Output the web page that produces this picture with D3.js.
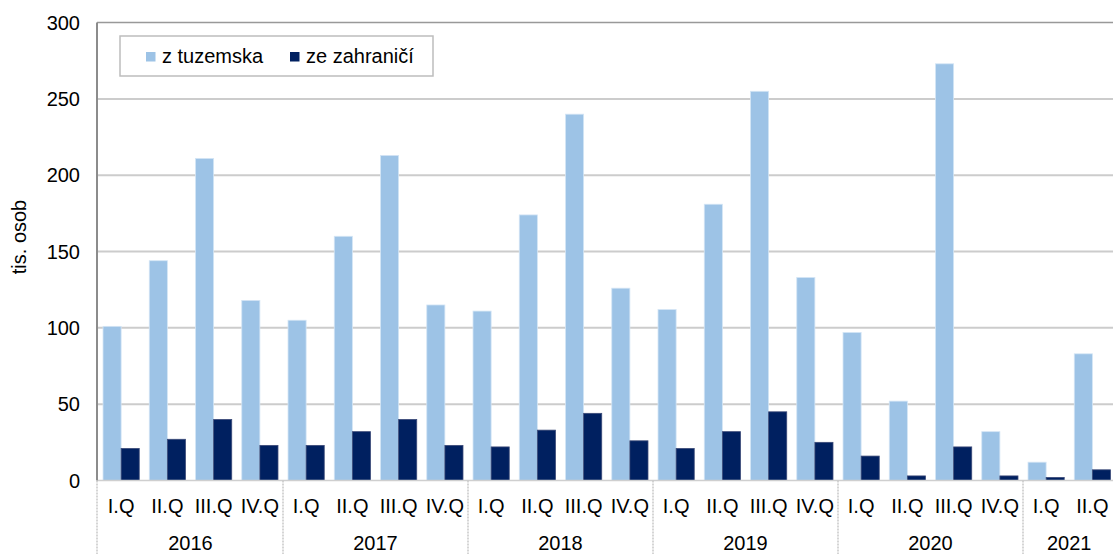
<!DOCTYPE html>
<html>
<head>
<meta charset="utf-8">
<script src="https://cdn.jsdelivr.net/npm/d3@7"></script>
<style>
  html, body { margin: 0; padding: 0; background: #fff; }
  svg { display: block; font-family: "Liberation Sans", Arial, sans-serif; }
</style>
</head>
<body>
<svg id="chart" width="1113" height="554"></svg>
<script>
// ---- data ----
const years = ["2016", "2017", "2018", "2019", "2020", "2021"];
const quartersPerYear = [4, 4, 4, 4, 4, 2];
const quarterLabels = ["I.Q", "II.Q", "III.Q", "IV.Q"];
const seriesNames = ["z tuzemska", "ze zahraničí"];
const domestic = [101, 144, 211, 118, 105, 160, 213, 115, 111, 174, 240, 126, 112, 181, 255, 133, 97, 52, 273, 32, 12, 83];
const foreign  = [21, 27, 40, 23, 23, 32, 40, 23, 22, 33, 44, 26, 21, 32, 45, 25, 16, 3, 22, 3, 2, 7];
const yTicks = [0, 50, 100, 150, 200, 250, 300];
const colors = ["#9dc3e6", "#002060"];

// build categories
const cats = [];
years.forEach((y, yi) => {
  for (let q = 0; q < quartersPerYear[yi]; q++) cats.push({ year: y, q: quarterLabels[q] });
});
const rows = cats.map((c, i) => ({ id: i, year: c.year, q: c.q, vals: [domestic[i], foreign[i]] }));

const svg = d3.select("#chart");
const step = 46.25;
const x0 = 98;
const x = d3.scaleBand().domain(rows.map(d => d.id)).range([x0, x0 + rows.length * step]).padding(0);
const x1 = d3.scaleBand().domain([0, 1]).range([0, x.bandwidth()]).paddingInner(0).paddingOuter(0.277);
const y = d3.scaleLinear().domain([0, 300]).range([480.5, 22.6]);

const font = 20;

// gridlines
svg.append("g").selectAll("line").data(yTicks.filter(t => t > 0 && t < 300)).join("line")
  .attr("x1", 97).attr("x2", 1113)
  .attr("y1", d => y(d)).attr("y2", d => y(d))
  .attr("stroke", "#cccccc").attr("stroke-width", 2);

// top border
svg.append("line").attr("x1", 97).attr("x2", 1113).attr("y1", y(300)).attr("y2", y(300))
  .attr("stroke", "#999").attr("stroke-width", 1.5);

// bars
const g = svg.append("g");
rows.forEach(r => {
  r.vals.forEach((v, si) => {
    g.append("rect")
      .attr("x", x(r.id) + x1(si))
      .attr("width", x1.bandwidth())
      .attr("y", y(v))
      .attr("height", y(0) - y(v))
      .attr("fill", colors[si])
      .attr("stroke", si === 0 ? "#d4e5f5" : "#3b4a78")
      .attr("stroke-width", 0.8);
  });
});

// x axis baseline
svg.append("line").attr("x1", 97).attr("x2", 1113).attr("y1", y(0)).attr("y2", y(0))
  .attr("stroke", "#cfcfcf").attr("stroke-width", 1.5);

// y axis line
svg.append("line").attr("x1", 97).attr("x2", 97).attr("y1", y(300)).attr("y2", y(0))
  .attr("stroke", "#8c8c8c").attr("stroke-width", 2);

// y tick labels
svg.append("g").selectAll("text").data(yTicks).join("text")
  .attr("x", 80).attr("y", d => y(d)).attr("dy", "0.36em")
  .attr("text-anchor", "end").attr("font-size", font).attr("fill", "#000")
  .text(d => d);

// y axis title
svg.append("text")
  .attr("transform", "translate(26,237) rotate(-90)")
  .attr("text-anchor", "middle").attr("font-size", font).attr("fill", "#000")
  .text("tis. osob");

// quarter labels
svg.append("g").selectAll("text").data(rows).join("text")
  .attr("x", d => x(d.id) + x.bandwidth() / 2).attr("y", 513)
  .attr("text-anchor", "middle").attr("font-size", font).attr("fill", "#000")
  .text(d => d.q);

// year groups
let start = 0;
const groups = years.map((yr, yi) => {
  const gg = { year: yr, start: start, end: start + quartersPerYear[yi] };
  start += quartersPerYear[yi];
  return gg;
});
svg.append("g").selectAll("text").data(groups).join("text")
  .attr("x", d => (x(d.start) + x(d.end - 1) + x.bandwidth()) / 2).attr("y", 550)
  .attr("text-anchor", "middle").attr("font-size", font).attr("fill", "#000")
  .text(d => d.year);

// separators
const sepX = [97].concat(groups.slice(1).map(d => x(d.start)));
svg.append("g").selectAll("line").data(sepX).join("line")
  .attr("x1", d => d).attr("x2", d => d).attr("y1", y(0)).attr("y2", 554)
  .attr("stroke", "#c8c8c8").attr("stroke-width", 1.5).attr("stroke-dasharray", "2,1");

// legend
const lg = svg.append("g");
lg.append("rect").attr("x", 120).attr("y", 36).attr("width", 313).attr("height", 40)
  .attr("fill", "#fff").attr("stroke", "#bdbdbd").attr("stroke-width", 1.5);
const legX = [146, 290];
seriesNames.forEach((n, i) => {
  lg.append("rect").attr("x", legX[i]).attr("y", 52).attr("width", 9.5).attr("height", 9.5)
    .attr("fill", colors[i]);
  lg.append("text").attr("x", legX[i] + 16).attr("y", 63)
    .attr("font-size", font).attr("fill", "#000").text(n);
});
</script>
</body>
</html>
